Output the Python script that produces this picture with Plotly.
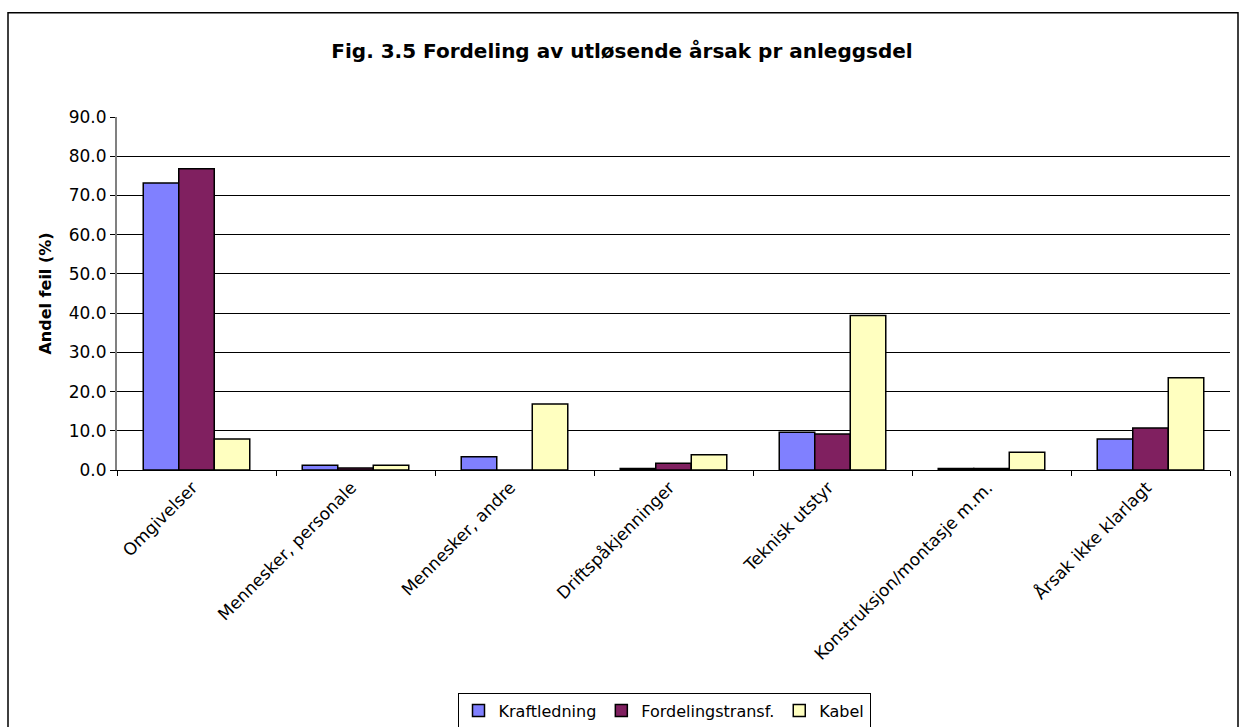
import plotly.graph_objects as go

categories = ["Omgivelser", "Mennesker, personale", "Mennesker, andre", "Driftspåkjenninger",
              "Teknisk utstyr", "Konstruksjon/montasje m.m.", "Årsak ikke klarlagt"]
kraftledning = [73.2, 1.2, 3.4, 0.4, 9.6, 0.4, 7.9]
fordelingstransf = [76.8, 0.5, 0.0, 1.7, 9.2, 0.4, 10.7]
kabel = [7.9, 1.2, 16.8, 3.9, 39.4, 4.5, 23.5]

series = [("Kraftledning", kraftledning, "#8080FF"),
          ("Fordelingstransf.", fordelingstransf, "#802060"),
          ("Kabel", kabel, "#FFFFC0")]

fig = go.Figure()
for name, vals, col in series:
    fig.add_trace(go.Bar(x=categories, y=vals, name=name,
                         marker=dict(color=col, line=dict(color="black", width=1.5))))

W, H = 1241, 740
S = H / 727.0  # vertical compensation for the capture
YOFF = 2

def vy(y):
    return (y - YOFF) * S

PL, PR = 117, 1230
PT, PB = vy(117), vy(466)
L, T, R, B = PL, PT, W - PR, H - PB
pw, ph = PR - PL, PB - PT

def px(x):
    return (x - PL) / pw

def py(y):
    return (PB - vy(y)) / ph

FONT = "DejaVu Sans, Arial, sans-serif"

fig.update_layout(
    width=W, height=H,
    margin=dict(l=L, r=R, t=T, b=B),
    paper_bgcolor="white", plot_bgcolor="white",
    barmode="group", bargap=0.33, bargroupgap=0,
    font=dict(family=FONT, size=17, color="black"),
    title=dict(text="<b>Fig. 3.5 Fordeling av utløsende årsak pr anleggsdel</b>",
               x=px(622), xref="paper", xanchor="center", y=1 - vy(52) / H, yanchor="middle",
               font=dict(size=20)),
    legend=dict(orientation="h", x=px(664), xanchor="center", y=py(686), yanchor="top",
                bordercolor="black", borderwidth=1, font=dict(size=16),
                itemwidth=30, traceorder="normal", tracegroupgap=0),
    showlegend=True,
    shapes=[dict(type="rect", xref="paper", yref="paper",
                 x0=px(8), x1=px(1238), y0=py(726), y1=py(14),
                 line=dict(color="black", width=1.5), fillcolor="rgba(0,0,0,0)", layer="below")],
)
fig.update_yaxes(range=[0, 90], dtick=10, tickformat=".1f", showgrid=True, gridcolor="black",
                 gridwidth=1, showline=True, linecolor="gray", linewidth=2, ticks="outside",
                 ticklen=5, tickcolor="black", zeroline=False,
                 title=dict(text="<b>Andel feil (%)</b>", font=dict(size=16), standoff=13))
fig.update_xaxes(showline=True, linecolor="black", linewidth=1, ticks="outside", ticklen=5,
                 tickcolor="black", tickson="boundaries", tickangle=-45, showgrid=False,
                 ticklabelshift=-4)

fig.write_html("out.html", config={"displayModeBar": False},
               post_script="document.body.style.margin='0px';document.documentElement.style.overflow='hidden';")
